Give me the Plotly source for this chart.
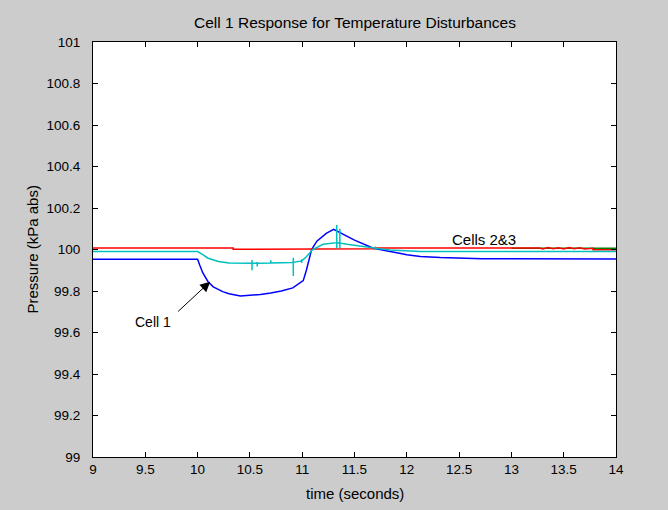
import plotly.graph_objects as go

# ---- data ----
t_cell1 = [9.0, 10.0, 10.02, 10.05, 10.1, 10.15, 10.24, 10.3, 10.41, 10.5, 10.6, 10.7, 10.8, 10.91,
           11.01, 11.04, 11.09, 11.14, 11.23, 11.3, 11.36, 11.5, 11.68, 11.75, 11.84, 11.93, 12.0,
           12.13, 12.32, 12.72, 14.0]
p_cell1 = [99.953, 99.953, 99.925, 99.887, 99.845, 99.82, 99.797, 99.787, 99.776, 99.778, 99.783,
           99.79, 99.80, 99.815, 99.85, 99.90, 100.0, 100.04, 100.078, 100.097, 100.081, 100.045,
           100.006, 99.998, 99.99, 99.982, 99.975, 99.966, 99.961, 99.956, 99.954]

t_cell3 = [13.0, 14.0]
p_cell3 = [100.006, 100.006]

t_cell2 = [9.0, 10.34, 10.34, 10.6, 10.6, 10.75, 10.75, 11.0, 11.0, 11.7, 11.7, 13.27, 13.3, 13.35,
           13.4, 13.45, 13.5, 13.55, 13.6, 13.65, 13.7, 13.78, 13.78, 14.0]
p_cell2 = [100.007, 100.007, 100.001, 100.001, 100.004, 100.004, 100.001, 100.001, 100.004, 100.004,
           100.007, 100.007, 100.003, 100.009, 100.004, 100.008, 100.003, 100.009, 100.004, 100.008,
           100.003, 100.006, 99.999, 99.999]

t_cyan = [9.0, 10.0, 10.05, 10.1, 10.2, 10.3,
          10.52, 10.52, 10.52, 10.52,
          10.57, 10.57, 10.57, 10.57,
          10.70, 10.70, 10.70, 10.70,
          10.9,
          10.915, 10.915, 10.915, 10.915,
          10.995, 10.995, 10.995, 10.995,
          11.04, 11.1, 11.2, 11.3,
          11.33, 11.33, 11.33, 11.33,
          11.36, 11.36, 11.36, 11.36,
          11.43, 11.68,
          11.7, 11.7, 11.7, 11.7,
          11.84, 12.13, 12.5, 14.0]
p_cyan = [99.99, 99.99, 99.975, 99.958, 99.942, 99.935,
          99.934, 99.95, 99.90, 99.934,
          99.934, 99.94, 99.918, 99.934,
          99.935, 99.948, 99.93, 99.935,
          99.937,
          99.938, 99.96, 99.872, 99.938,
          99.945, 99.953, 99.935, 99.945,
          99.965, 100.0, 100.025, 100.033,
          100.033, 100.118, 100.006, 100.033,
          100.032, 100.10, 100.006, 100.031,
          100.025, 100.008,
          100.006, 100.014, 99.998, 100.006,
          99.998, 99.99, 99.99, 99.99]

x_ticks = [9, 9.5, 10, 10.5, 11, 11.5, 12, 12.5, 13, 13.5, 14]
x_labels = ["9", "9.5", "10", "10.5", "11", "11.5", "12", "12.5", "13", "13.5", "14"]
y_ticks = [99, 99.2, 99.4, 99.6, 99.8, 100, 100.2, 100.4, 100.6, 100.8, 101]
y_labels = ["99", "99.2", "99.4", "99.6", "99.8", "100", "100.2", "100.4", "100.6", "100.8", "101"]

FONT = "Liberation Sans, Arial, Helvetica, sans-serif"

fig = go.Figure()
fig.add_trace(go.Scatter(x=t_cell1, y=p_cell1, mode="lines", line=dict(color="#0000ff", width=1.5)))
fig.add_trace(go.Scatter(x=t_cell3, y=p_cell3, mode="lines", line=dict(color="#008000", width=1.5)))
fig.add_trace(go.Scatter(x=t_cell2, y=p_cell2, mode="lines", line=dict(color="#ff0000", width=1.5)))
fig.add_trace(go.Scatter(x=t_cyan, y=p_cyan, mode="lines", line=dict(color="#00bfbf", width=1.5)))

axis_common = dict(
    showline=True, linecolor="black", linewidth=1, mirror="ticks",
    ticks="inside", ticklen=5, tickcolor="black", tickwidth=1,
    showgrid=False, zeroline=False,
    tickfont=dict(family=FONT, size=13.5, color="black"),
)

fig.update_layout(
    width=668, height=510,
    margin=dict(l=93, r=52, t=42, b=53),
    paper_bgcolor="#cccccc", plot_bgcolor="white",
    showlegend=False,
    xaxis=dict(range=[9, 14], tickvals=x_ticks, ticktext=x_labels, ticklabelstandoff=0, **axis_common),
    yaxis=dict(range=[99, 101], tickvals=y_ticks, ticktext=y_labels, ticklabelstandoff=9, **axis_common),
    annotations=[
        dict(text="Cell 1 Response for Temperature Disturbances", xref="paper", yref="paper",
             x=0.5, y=1, yshift=20, xanchor="center", yanchor="middle", showarrow=False,
             font=dict(family=FONT, size=15.5, color="black")),
        dict(text="time (seconds)", xref="paper", yref="paper", x=0.5, y=0, yshift=-36,
             xanchor="center", yanchor="middle", showarrow=False,
             font=dict(family=FONT, size=15, color="black")),
        dict(text="Pressure (kPa abs)", xref="paper", yref="paper", x=0, y=0.5, xshift=-61,
             xanchor="center", yanchor="middle", textangle=-90, showarrow=False,
             font=dict(family=FONT, size=15, color="black")),
        dict(text="Cells 2&3", x=12.74, y=100.046, xref="x", yref="y", showarrow=False,
             font=dict(family=FONT, size=15, color="black")),
        dict(text="Cell 1", x=9.574, y=99.652, xref="x", yref="y", showarrow=False,
             font=dict(family=FONT, size=14, color="black")),
        dict(text="", x=10.12, y=99.845, xref="x", yref="y", ax=9.80, ay=99.695,
             axref="x", ayref="y", showarrow=True, arrowhead=2, arrowsize=2, arrowwidth=1,
             arrowcolor="black", standoff=0, startstandoff=0),
    ],
)

fig.write_html("out.html")
